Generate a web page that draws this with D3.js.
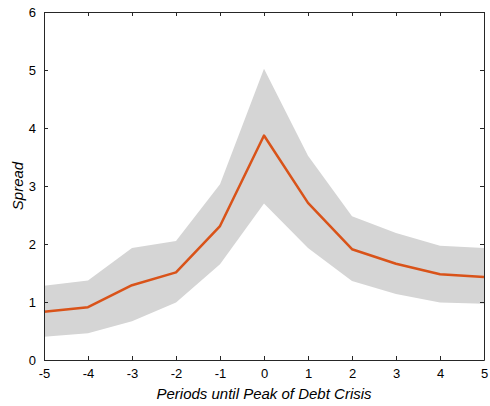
<!DOCTYPE html>
<html>
<head>
<meta charset="utf-8">
<script src="https://cdn.jsdelivr.net/npm/d3@7"></script>
<style>
  body { margin: 0; background: #fff; }
  text { font-family: "Liberation Sans", Arial, sans-serif; }
</style>
</head>
<body>
<script>
var w = 490, h = 406;
var margin = {left: 44, right: 6, top: 12, bottom: 46};

var periods = [-5, -4, -3, -2, -1, 0, 1, 2, 3, 4, 5];
var spread = [0.83, 0.91, 1.29, 1.51, 2.31, 3.87, 2.71, 1.91, 1.66, 1.48, 1.43];
var upper = [1.28, 1.37, 1.93, 2.05, 3.03, 5.02, 3.52, 2.48, 2.19, 1.97, 1.93];
var lower = [0.40, 0.46, 0.67, 0.99, 1.65, 2.70, 1.93, 1.36, 1.14, 0.99, 0.97];
var yTicks = [0, 1, 2, 3, 4, 5, 6];

var svg = d3.select("body").append("svg")
  .attr("width", w).attr("height", h);

var x = d3.scaleLinear().domain([-5, 5]).range([margin.left, w - margin.right]);
var y = d3.scaleLinear().domain([0, 6]).range([h - margin.bottom, margin.top]);

var data = periods.map(function (p, i) {
  return {p: p, m: spread[i], hi: upper[i], lo: lower[i]};
});

// shaded band
var area = d3.area()
  .x(function (d) { return x(d.p); })
  .y0(function (d) { return y(d.lo); })
  .y1(function (d) { return y(d.hi); });
svg.append("path").datum(data)
  .attr("d", area)
  .attr("fill", "#d5d5d5");

// median line
var line = d3.line()
  .x(function (d) { return x(d.p); })
  .y(function (d) { return y(d.m); });
svg.append("path").datum(data)
  .attr("d", line)
  .attr("fill", "none")
  .attr("stroke", "#d95319")
  .attr("stroke-width", 2.5)
  .attr("stroke-linejoin", "round");

// axes, ticks inward, box style
var tickLen = 4;
var axisColor = "#262626";
var plain = function (d) { return String(d); };

var xAxis = svg.append("g")
  .attr("transform", "translate(0," + y(0) + ")")
  .call(d3.axisBottom(x).tickValues(periods).tickFormat(plain)
    .tickSizeInner(-tickLen).tickSizeOuter(0).tickPadding(9));
var xTop = svg.append("g")
  .attr("transform", "translate(0," + y(6) + ")")
  .call(d3.axisTop(x).tickValues(periods).tickSizeInner(-tickLen).tickSizeOuter(0).tickFormat(""));
var yAxis = svg.append("g")
  .attr("transform", "translate(" + x(-5) + ",0)")
  .call(d3.axisLeft(y).tickValues(yTicks).tickFormat(plain)
    .tickSizeInner(-tickLen).tickSizeOuter(0).tickPadding(8));
var yRight = svg.append("g")
  .attr("transform", "translate(" + x(5) + ",0)")
  .call(d3.axisRight(y).tickValues(yTicks).tickSizeInner(-tickLen).tickSizeOuter(0).tickFormat(""));

[xAxis, xTop, yAxis, yRight].forEach(function (g) {
  g.selectAll("path").attr("stroke", axisColor).attr("stroke-width", 1);
  g.selectAll("line").attr("stroke", axisColor);
  g.selectAll("text")
    .attr("fill", "#000")
    .style("font-size", "13px")
    .style("font-family", "'Liberation Sans', Arial, sans-serif");
});

// axis labels
svg.append("text")
  .attr("x", (x(-5) + x(5)) / 2)
  .attr("y", 399)
  .attr("text-anchor", "middle")
  .style("font-size", "15px")
  .style("font-style", "italic")
  .text("Periods until Peak of Debt Crisis");

svg.append("text")
  .attr("transform", "translate(23," + y(3) + ") rotate(-90)")
  .attr("text-anchor", "middle")
  .style("font-size", "15px")
  .style("font-style", "italic")
  .text("Spread");
</script>
</body>
</html>
